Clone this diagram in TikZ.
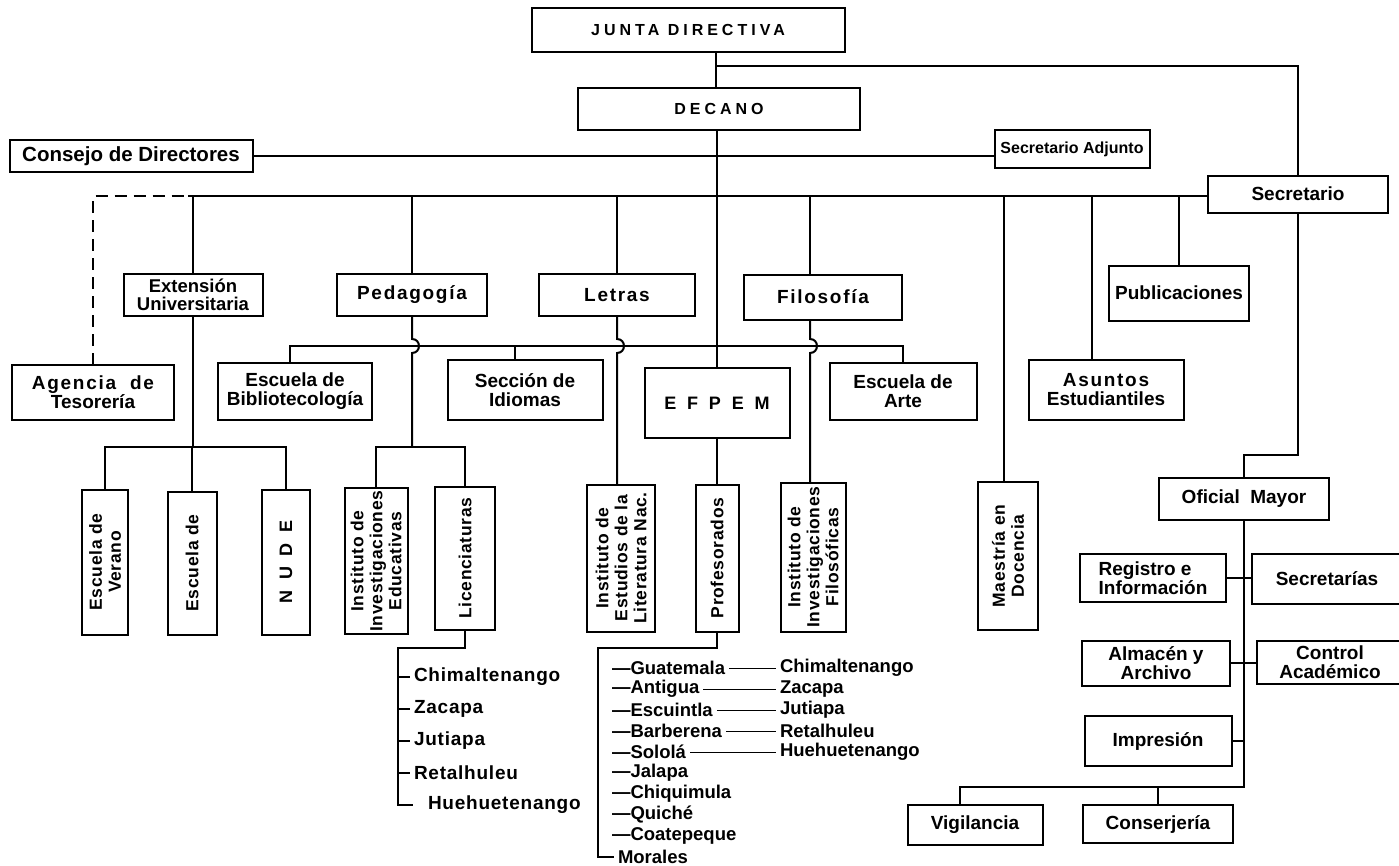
\documentclass[tikz,border=0pt]{standalone}
\usepackage{fontspec}
\setmainfont{Liberation Sans}
\newfontfamily\spaced[LetterSpace=9]{Liberation Sans}
\newfontfamily\widely[LetterSpace=25]{Liberation Sans}
\newfontfamily\widest[LetterSpace=60]{Liberation Sans}
\newfontfamily\sidefont[LetterSpace=4]{Liberation Sans}
\newfontfamily\listfont[LetterSpace=4]{Liberation Sans}

\begin{document}
\begin{tikzpicture}[x=1pt,y=-1pt,inner sep=0pt,outer sep=0pt,line width=2pt,
unit/.style={draw,rectangle,inner sep=2pt,align=center,font=\bfseries\fontsize{19}{19}\selectfont},
spread/.style={font=\spaced\bfseries\fontsize{19}{19}\selectfont},
vunit/.style={unit,rotate=90,font=\sidefont\bfseries\fontsize{17.5}{19}\selectfont},
wh/.style 2 args={minimum width=#1pt,minimum height=#2pt},
licitem/.style={anchor=west,inner sep=4pt,font=\listfont\bfseries\fontsize{19}{19}\selectfont},
town/.style={anchor=west,inner sep=4pt,font=\bfseries\fontsize{18.5}{18.5}\selectfont}]

\useasboundingbox (0,0) rectangle (1399,865);

\draw (688,30) node[unit,wh={313}{44},font=\widely\bfseries\fontsize{16}{16}\selectfont] (junta) {JUNTA DIRECTIVA};
\draw (719,109) node[unit,wh={282}{42},font=\widely\bfseries\fontsize{16}{16}\selectfont] (decano) {DECANO};
\draw (131,156) node[unit,wh={243}{32},font=\bfseries\fontsize{20.5}{20.5}\selectfont] (consejo) {Consejo de Directores};
\draw (1072,149) node[unit,wh={155}{38},font=\bfseries\fontsize{16}{16}\selectfont] (adjunto) {Secretario Adjunto};
\draw (1298,194) node[unit,wh={180}{37}] (secretario) {Secretario};

\draw (193,295) node[unit,wh={139}{42},font=\bfseries\fontsize{18.5}{17.5}\selectfont] (extension) {Extensión\\Universitaria};
\draw (412,295) node[unit,spread,wh={150}{42}] (pedagogia) {Pedagogía};
\draw (617,295) node[unit,spread,wh={156}{42}] (letras) {Letras};
\draw (823,297) node[unit,spread,wh={158}{45}] (filosofia) {Filosofía};
\draw (1179,293) node[unit,wh={140}{55}] (publicaciones) {Publicaciones};

\draw (93,392) node[unit,wh={162}{55}] (agencia) {{\spaced Agencia\ \ de}\\Tesorería};
\draw (295,391) node[unit,wh={154}{57}] (biblio) {Escuela de\\Bibliotecología};
\draw (525,390) node[unit,wh={155}{60}] (idiomas) {Sección de\\Idiomas};
\draw (717,403) node[unit,wh={145}{70},font=\widest\bfseries\fontsize{18}{18}\selectfont] (efpem) {EFPEM};
\draw (903,391) node[unit,wh={147}{57}] (arte) {Escuela de\\Arte};
\draw (1106,390) node[unit,wh={155}{60}] (asuntos) {{\spaced Asuntos}\\Estudiantiles};

\draw (105,562) node[vunit,wh={145}{46}] (verano) {Escuela de\\Verano};
\draw (192,563) node[vunit,wh={143}{49}] (escuela) {Escuela de};
\draw (286,562) node[vunit,wh={145}{48},font=\widest\bfseries\fontsize{18}{18}\selectfont] (nude) {NUDE};
\draw (376,561) node[vunit,wh={142}{63}] (ineduc) {Instituto de\\Investigaciones\\Educativas};
\draw (465,558) node[vunit,wh={143}{60}] (licen) {Licenciaturas};
\draw (621,558) node[vunit,wh={147}{68}] (iliter) {Instituto de\\Estudios de la\\Literatura Nac.};
\draw (717,558) node[vunit,wh={147}{43}] (profes) {Profesorados};
\draw (813,557) node[vunit,wh={149}{65}] (ifilos) {Instituto de\\Investigaciones\\Filosóficas};
\draw (1008,556) node[vunit,wh={148}{60}] (maestria) {Maestría en\\Docencia};

\draw (1244,499) node[unit,wh={170}{42}] (oficial) {Oficial\ \ Mayor};
\draw (1153,578) node[unit,wh={146}{48},align=left] (registro) {Registro e\\Información};
\draw (1327,579) node[unit,wh={150}{50}] (secretarias) {Secretarías};
\draw (1156,663) node[unit,wh={148}{45}] (almacen) {Almacén y\\Archivo};
\draw (1330,662) node[unit,wh={146}{43}] (control) {Control\\Académico};
\draw (1158,741) node[unit,wh={147}{50}] (impresion) {Impresión};
\draw (975,825) node[unit,wh={135}{40}] (vigilancia) {Vigilancia};
\draw (1158,824) node[unit,wh={150}{38}] (conserjeria) {Conserjería};

\coordinate (trunk) at (716,66);
\coordinate (bus) at (188,196);
\coordinate (hop) at (290,346);
\coordinate (sub) at (0,447);
\coordinate (base) at (0,787);
\coordinate (fil) at (810,0);
\coordinate (mae) at (1004,0);
\coordinate (asu) at (1092,0);

\draw (junta.south -| trunk) -- (decano.north -| trunk);
\draw (trunk) -| (secretario.north);
\draw (consejo.east) -- (consejo.east -| adjunto.west);
\draw (decano.south -| efpem.north) -- (efpem.north);
\draw (efpem.south) -- (profes.east);

\draw (bus) -- (bus -| secretario.west);
\draw[dash pattern=on 12pt off 7pt] (agencia.north) |- (bus);
\draw (extension.north) -- (extension.north |- bus);
\draw (pedagogia.north) -- (pedagogia.north |- bus);
\draw (letras.north) -- (letras.north |- bus);
\draw (fil |- bus) -- (fil |- filosofia.north);
\draw (mae |- bus) -- (mae |- maestria.east);
\draw (asu |- bus) -- (asu |- asuntos.north);
\draw (publicaciones.north) -- (publicaciones.north |- bus);

\draw ([xshift=-5pt]biblio.north) |- (arte.north |- hop) -- (arte.north);
\draw ([xshift=-10pt]idiomas.north) -- ([xshift=-10pt]idiomas.north |- hop);
\draw (pedagogia.south) -- ([yshift=7pt]pedagogia.south |- hop) to[out=0,in=0,looseness=1.7] ([yshift=-7pt]pedagogia.south |- hop) -- (pedagogia.south |- sub);
\draw (letras.south) -- ([yshift=7pt]letras.south |- hop) to[out=0,in=0,looseness=1.7] ([yshift=-7pt]letras.south |- hop) -- (letras.south |- iliter.east);
\draw (fil |- filosofia.south) -- ([yshift=7pt]fil |- hop) to[out=0,in=0,looseness=1.7] ([yshift=-7pt]fil |- hop) -- (fil |- ifilos.east);

\draw (extension.south) -- (extension.south |- sub);
\draw (verano.east) |- (nude.east |- sub) -- (nude.east);
\draw (escuela.east) -- (escuela.east |- sub);
\draw (ineduc.east) |- (licen.east |- sub) -- (licen.east);

\draw (secretario.south) |- ([yshift=23pt]oficial.north) -- (oficial.north);
\draw (oficial.south) -- (oficial.south |- base) -| ([xshift=-15pt]vigilancia.north);
\draw (conserjeria.north) -- (conserjeria.north |- base);
\draw (registro.east) -- (secretarias.west |- registro.east);
\draw (almacen.east) -- (control.west |- almacen.east);
\draw (impresion.east) -- (impresion.east -| oficial.south);

\coordinate (lbr) at (398,648);
\foreach \t [count=\i] in {Chimaltenango,Zacapa,Jutiapa,Retalhuleu}
  {\draw (410,{645+32*\i}) node[licitem] (l\i) {\t};
   \draw (lbr |- l\i.west) -- (l\i.west);}
\draw (413,805) node[licitem,inner xsep=15pt] (l5) {Huehuetenango};
\draw (licen.west) |- (lbr) |- (l5.west);

\coordinate (pbr) at (598,648);
\foreach \t [count=\i] in {Guatemala,Antigua,Escuintla,Barberena,Sololá,Jalapa,Chiquimula,Quiché,Coatepeque}
  \draw (608,{647+21*\i}) node[town] (p\i) {—\t};
\draw (614,857) node[town] (p10) {Morales};
\draw (profes.west) |- (pbr) |- (p10.west);
\foreach \t [count=\i] in {Chimaltenango,Zacapa,Jutiapa,Retalhuleu,Huehuetenango}
  {\draw (776,{647+21*\i}) node[town] (q\i) {\t};
   \draw[line width=1pt] (p\i.east) -- (q\i.west);}
\end{tikzpicture}
\end{document}
